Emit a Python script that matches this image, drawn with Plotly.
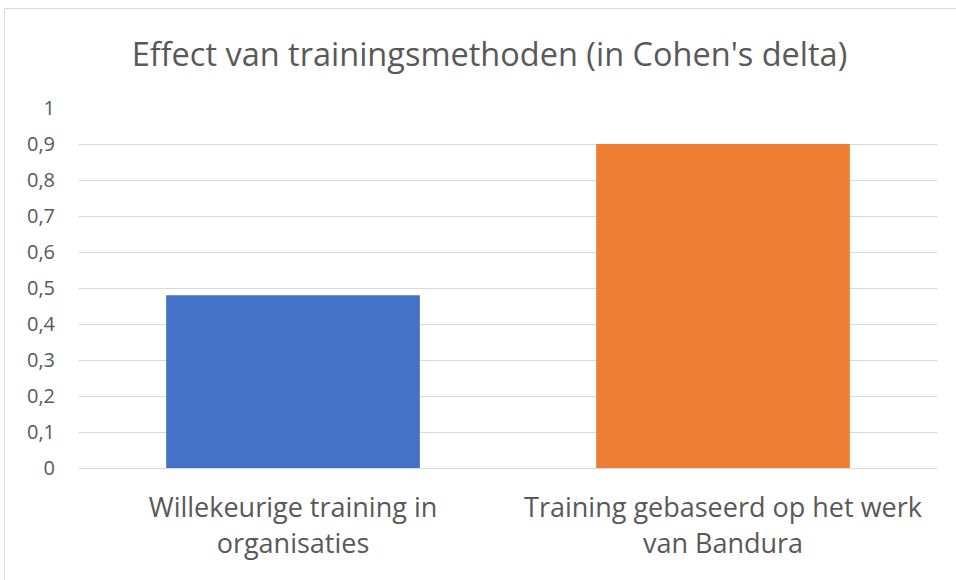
import plotly.graph_objects as go

categories = ["Willekeurige training in<br>organisaties", "Training gebaseerd op het werk<br>van Bandura"]
values = [0.48, 0.90]
colors = ["#4472C4", "#ED7D31"]
tick_vals = [0, 0.1, 0.2, 0.3, 0.4, 0.5, 0.6, 0.7, 0.8, 0.9, 1]
tick_text = ["0", "0,1", "0,2", "0,3", "0,4", "0,5", "0,6", "0,7", "0,8", "0,9", "1"]
title = "Effect van trainingsmethoden (in Cohen's delta)"

FONT = "Open Sans"

fig = go.Figure(go.Bar(x=categories, y=values, marker=dict(color=colors, line=dict(width=0)),
                       hoverinfo="skip"))

fig.update_layout(
    width=956, height=580,
    margin=dict(l=78, r=18, t=108, b=112),
    paper_bgcolor="white", plot_bgcolor="white",
    bargap=0.41,
    showlegend=False,
    title=dict(text=title, x=0.512, xanchor="center", y=0.905, yanchor="middle",
               font=dict(family=FONT, size=32.5, color="#595959")),
    font=dict(family=FONT, color="#595959"),
    xaxis=dict(showgrid=False, showline=True, linecolor="#D9D9D9", linewidth=1,
               tickfont=dict(size=27, color="#595959", family=FONT), ticks="",
               ticklabelstandoff=16),
    yaxis=dict(range=[0, 1], tickvals=tick_vals, ticktext=tick_text, showgrid=True,
               gridcolor="#D9D9D9", gridwidth=1, zeroline=False, showline=False,
               tickfont=dict(size=20, color="#595959", family=FONT), ticks="",
               ticklabelstandoff=22),
    shapes=[dict(type="rect", xref="paper", yref="paper", x0=(4.5 - 78) / 860, x1=1.1,
                 y0=-0.5, y1=(468 - 8.5) / 360, line=dict(color="#D9D9D9", width=1),
                 fillcolor="rgba(0,0,0,0)", layer="below")],
)

fig.write_html("out.html", config={"displayModeBar": False},
               post_script="document.body.style.margin='0';")
